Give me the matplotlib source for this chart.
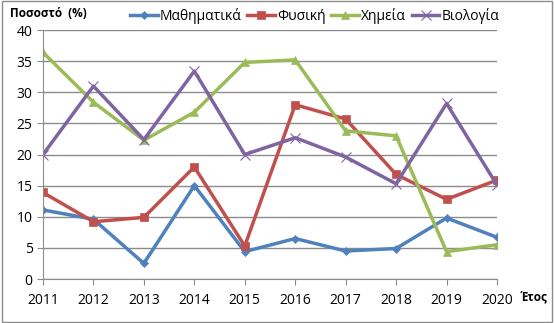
import matplotlib.pyplot as plt
from matplotlib.patches import Rectangle

years = [2011, 2012, 2013, 2014, 2015, 2016, 2017, 2018, 2019, 2020]
math = [11.1, 9.6, 2.5, 15.0, 4.4, 6.5, 4.5, 4.9, 9.8, 6.7]
physics = [13.9, 9.2, 9.9, 18.0, 5.3, 28.0, 25.7, 16.8, 12.8, 15.9]
chemistry = [36.4, 28.4, 22.3, 26.8, 34.8, 35.2, 23.8, 23.0, 4.4, 5.5]
biology = [20.0, 31.0, 22.4, 33.4, 20.0, 22.7, 19.6, 15.3, 28.2, 15.1]

labels = ["Μαθηματικά", "Φυσική", "Χημεία", "Βιολογία"]
colors = ["#4F81BD", "#C0504D", "#9BBB59", "#8064A2"]
markers = ["D", "s", "^", "x"]
msizes = [4.5, 6, 6, 7]

plt.rcParams["font.family"] = ["Open Sans", "DejaVu Sans"]

fig = plt.figure(figsize=(5.54, 3.23), dpi=100)
fig.patches.append(Rectangle((0.003, 0.004), 0.994, 0.992, transform=fig.transFigure,
                             fill=False, edgecolor="#8c8c8c", linewidth=1))
ax = fig.add_axes([0.0776, 0.1362, 0.8195, 0.7708])

x = list(range(len(years)))
for vals, lab, c, m, ms in zip([math, physics, chemistry, biology], labels, colors, markers, msizes):
    ax.plot(x, vals, color=c, linewidth=2.5, marker=m, markersize=ms, label=lab,
            markeredgewidth=0.8 if m == "x" else 0.5, markeredgecolor=c)

ax.set_xlim(0, len(years) - 1)
ax.set_ylim(0, 40)
ax.set_yticks(range(0, 41, 5))
ax.set_xticks(x)
ax.set_xticklabels([str(y) for y in years])
ax.grid(axis="y", color="#8c8c8c", linewidth=1)
ax.set_axisbelow(True)
for s in ["top", "right"]:
    ax.spines[s].set_visible(False)
for s in ["left", "bottom"]:
    ax.spines[s].set_color("#8c8c8c")
ax.tick_params(axis="both", colors="#8c8c8c", labelcolor="black", labelsize=10, length=4)
ax.tick_params(axis="x", pad=6)

fig.text(0.018, 0.958, "Ποσοστό  (%)", fontsize=8.5, fontweight="bold", va="center", ha="left")
fig.text(0.94, 0.081, "Έτος", fontsize=8.5, fontweight="bold", va="center", ha="left")

fig.legend(loc="center", bbox_to_anchor=(0.568, 0.952), ncol=4, frameon=False, fontsize=10,
           handlelength=2.0, columnspacing=0.4, handletextpad=0.15, borderaxespad=0)

fig.savefig("out.png", dpi=100)
